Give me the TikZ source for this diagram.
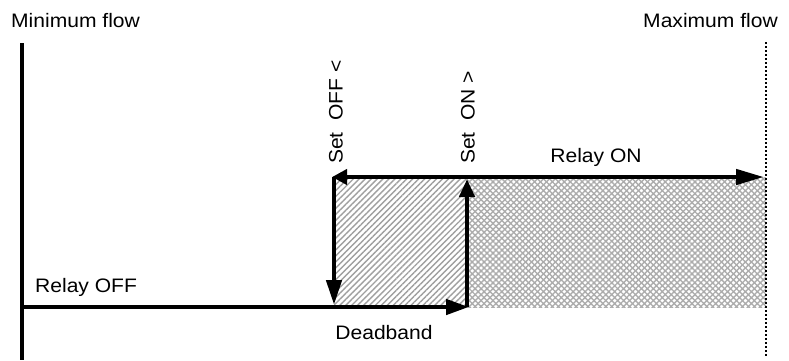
\documentclass[tikz,border=0pt]{standalone}
\usepackage{fontspec}
\setmainfont{Liberation Sans}[FakeStretch=1.08]
\usepackage{tikz}
\usetikzlibrary{arrows.meta, patterns.meta}
\usepackage{xcolor}

\tikzset{
    flow/.style={line width=4.5pt, -{Triangle[length=#1,width=15pt]}},
    flow/.default=22pt,
    lbl/.style={inner sep=0pt, font=\fontsize{19.5}{22}\selectfont},
    hatch/.style={pattern={Lines[angle=#1, distance=4.2pt, line width=1.4pt]}},
}

\begin{document}
\begin{tikzpicture}[x=1pt, y=-1pt]
    \useasboundingbox (0,0) rectangle (789,360);
    \coordinate (axtop) at (22,43);
    \coordinate (axbot) at (22,360);
    \coordinate (offstart) at (20,307);
    \coordinate (offlow) at (334,307);
    \coordinate (offhigh) at (334,177);
    \coordinate (onlow) at (467,307);
    \coordinate (onhigh) at (467,177);
    \coordinate (onend) at (764,177);
    \coordinate (maxtop) at (766,42);
    \coordinate (maxbot) at (766,356);
    % shaded zones
    \fill[hatch=45, pattern color=gray!75] (offhigh) rectangle (onlow);
    \fill[hatch=45, pattern color=gray!65] (onhigh) rectangle (maxbot |- onlow);
    \fill[hatch=-45, pattern color=gray!65] (onhigh) rectangle (maxbot |- onlow);
    % limits
    \draw[line width=4.5pt] (axtop) -- (axbot);
    \draw[line width=2.5pt, dash pattern=on 2pt off 2pt] (maxtop) -- (maxbot);
    % hysteresis loop
    \draw[flow=23pt] (offstart) -- ([xshift=2pt]onlow);
    \draw[flow=18pt] (onlow) -- ([yshift=-2pt]onhigh);
    \draw[flow=15pt] (onhigh) -- ([xshift=-2pt]offhigh);
    \draw[flow=28pt] (onhigh) -- (onend);
    \draw[flow=25pt] (offhigh) -- ([yshift=2pt]offlow);
    % labels
    \node[lbl, anchor=west] (minflow) at (11,21) {Minimum flow};
    \node[lbl, anchor=east] (maxflow) at (778,21) {Maximum flow};
    \node[lbl, anchor=west] (relayoff) at (35,287) {Relay OFF};
    \node[lbl] (relayon) at (596,157) {Relay ON};
    \node[lbl] (deadband) at (384,333) {Deadband};
    \node[lbl, rotate=90, anchor=west] (setoff) at (336,164) {Set\ \ OFF <};
    \node[lbl, rotate=90, anchor=west] (seton) at (468,164) {Set\ \ ON >};
\end{tikzpicture}
\end{document}
